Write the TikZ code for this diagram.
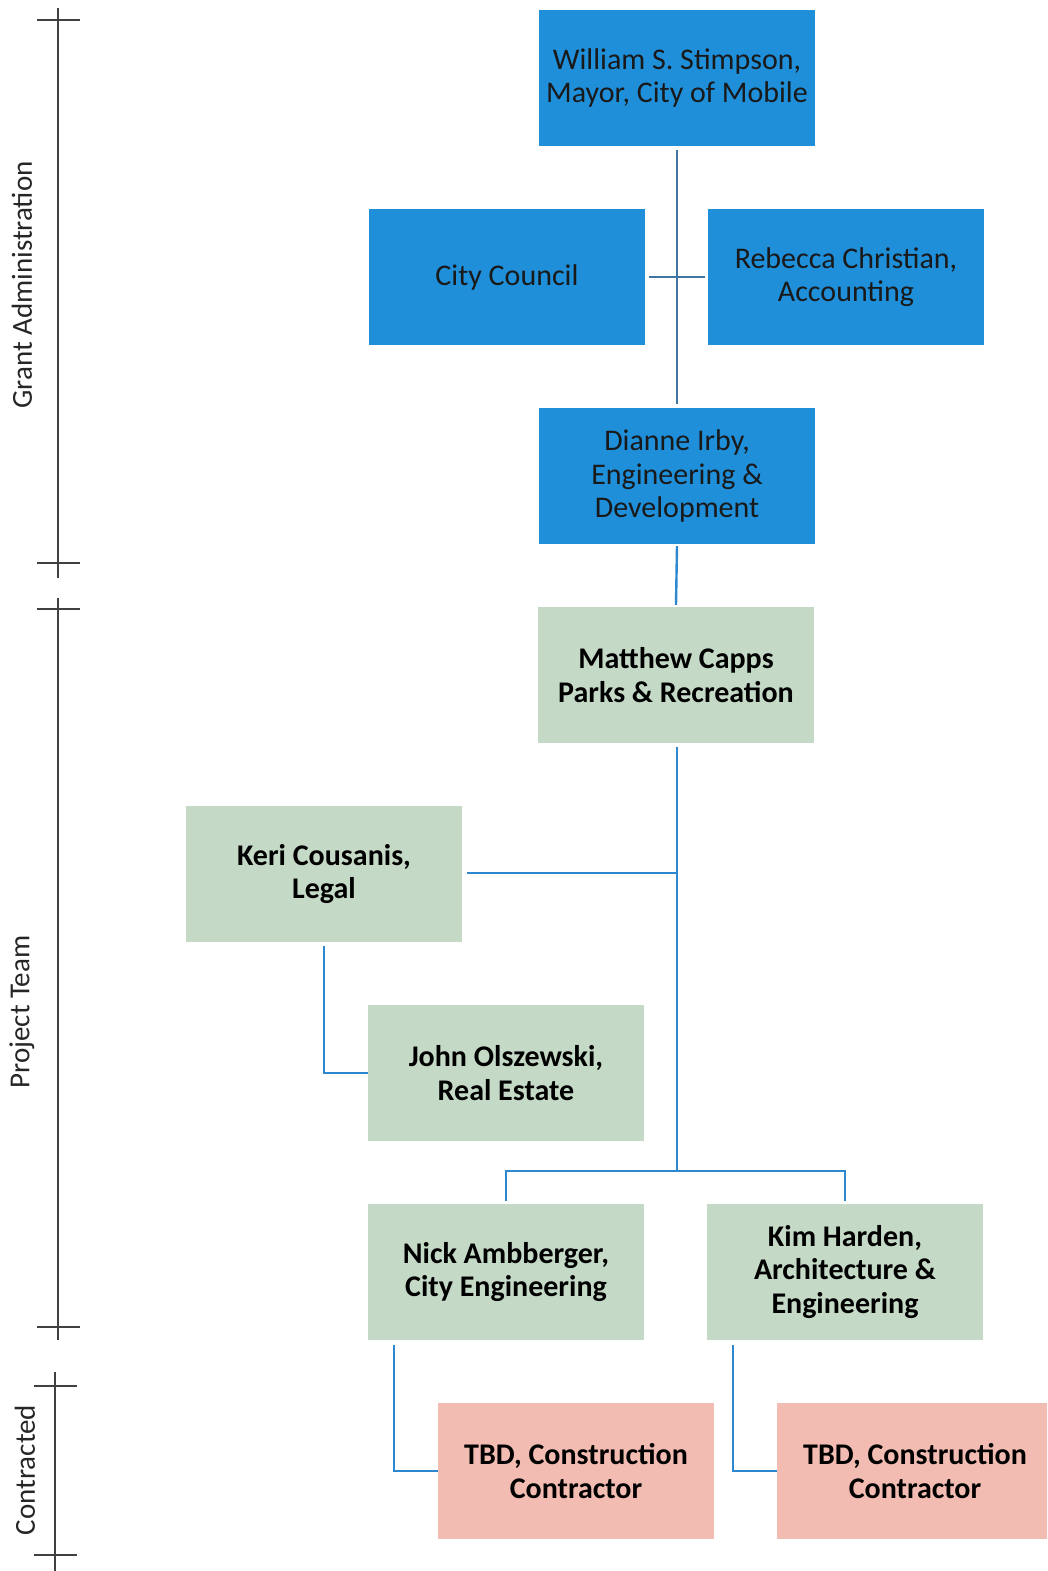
\documentclass[tikz,border=0pt]{standalone}
\usepackage{fontspec}
\setmainfont{Carlito}
\begin{document}
\begin{tikzpicture}[x=1pt,y=-1pt,
  box/.style={minimum width=276pt,minimum height=136pt,inner sep=0pt,align=center,
    font=\fontsize{30}{33.5}\selectfont},
  bluebox/.style={box,fill=boxblue,text=black!90},
  greenbox/.style={box,fill=boxgreen,font=\fontsize{30}{33.5}\selectfont\bfseries},
  pinkbox/.style={box,fill=boxpink,font=\fontsize{30}{33.5}\selectfont\bfseries},
  topline/.style={draw=lineA,line width=2.4pt},
  conn/.style={draw=lineB,line width=2.4pt},
  scale line/.style={draw=black!75,line width=1.6pt},
  side/.style={rotate=90,font=\fontsize{29}{33}\selectfont,text=black!85}]
\definecolor{boxblue}{HTML}{1F8FDA}
\definecolor{boxgreen}{HTML}{C5D9C7}
\definecolor{boxpink}{HTML}{F3BCB2}
\definecolor{lineA}{HTML}{3F75A3}
\definecolor{lineB}{HTML}{2E88CF}
\useasboundingbox (0,0) rectangle (1047,1571);
\begin{scope}
\clip (0,0) rectangle (1047,1571);
% nodes
\node[bluebox] (mayor) at (677,78) {William S. Stimpson,\\Mayor, City of Mobile};
\node[bluebox] (council) at (507,277) {City Council};
\node[bluebox] (rebecca) at (846,277) {Rebecca Christian,\\Accounting};
\node[bluebox] (dianne) at (677,476) {Dianne Irby,\\Engineering \&\\Development};
\node[greenbox] (matthew) at (676,675) {Matthew Capps\\Parks \& Recreation};
\node[greenbox] (keri) at (324,874) {Keri Cousanis,\\Legal};
\node[greenbox] (john) at (506,1073) {John Olszewski,\\Real Estate};
\node[greenbox] (nick) at (506,1272) {Nick Ambberger,\\City Engineering};
\node[greenbox] (kim) at (845,1272) {Kim Harden,\\Architecture \&\\Engineering};
\node[pinkbox] (tbd1) at (576,1471) {TBD, Construction\\Contractor};
\node[pinkbox] (tbd2) at (915,1471) {TBD, Construction\\Contractor};
% coordinates
\coordinate (bj) at (677,1171);
\coordinate (kj) at (677,873);
\coordinate (nj) at (506,1171);
\coordinate (mj) at (845,1171);
\coordinate (kd) at (324,1073);
\coordinate (nd) at (394,1471);
\coordinate (md) at (733,1471);
% connectors
\draw[topline] ([yshift=-4pt]mayor.south) -- ([yshift=4pt]dianne.north);
\draw[topline] ([xshift=4pt]council.east) -- ([xshift=-3pt]rebecca.west);
\draw[conn] ([yshift=-2pt]dianne.south) -- ([yshift=2pt]matthew.north);
\draw[conn] ([yshift=-4pt]matthew.south -| bj) -- (bj);
\draw[conn] ([xshift=5pt]keri.east |- kj) -- (kj);
\draw[conn] ([yshift=3pt]nick.north) -- (nj) -- (mj) -- ([yshift=3pt]kim.north);
\draw[conn] ([yshift=-4pt]keri.south) -- (kd) -- (john.west);
\draw[conn] ([yshift=-5pt]nick.south -| nd) -- (nd) -- (tbd1.west);
\draw[conn] ([yshift=-5pt]kim.south -| md) -- (md) -- (tbd2.west);
\end{scope}
% side scale
\coordinate (g1) at (58,8);
\coordinate (g2) at (58,578);
\draw[scale line] (g1) -- (g2);
\draw[scale line] (37,20) -- (80,20);
\draw[scale line] (37,563) -- (80,563);
\coordinate (p1) at (58,598);
\coordinate (p2) at (58,1340);
\draw[scale line] (p1) -- (p2);
\draw[scale line] (37,609) -- (80,609);
\draw[scale line] (37,1327) -- (80,1327);
\coordinate (c1) at (55,1372);
\coordinate (c2) at (55,1571);
\draw[scale line] (c1) -- (c2);
\draw[scale line] (34,1386) -- (77,1386);
\draw[scale line] (34,1555) -- (77,1555);
\node[side] (ga) at (22,285) {Grant Administration};
\node[side] (pt) at (22,1012) {Project Team};
\node[side] (ct) at (25,1470) {Contracted};
\end{tikzpicture}
\end{document}
